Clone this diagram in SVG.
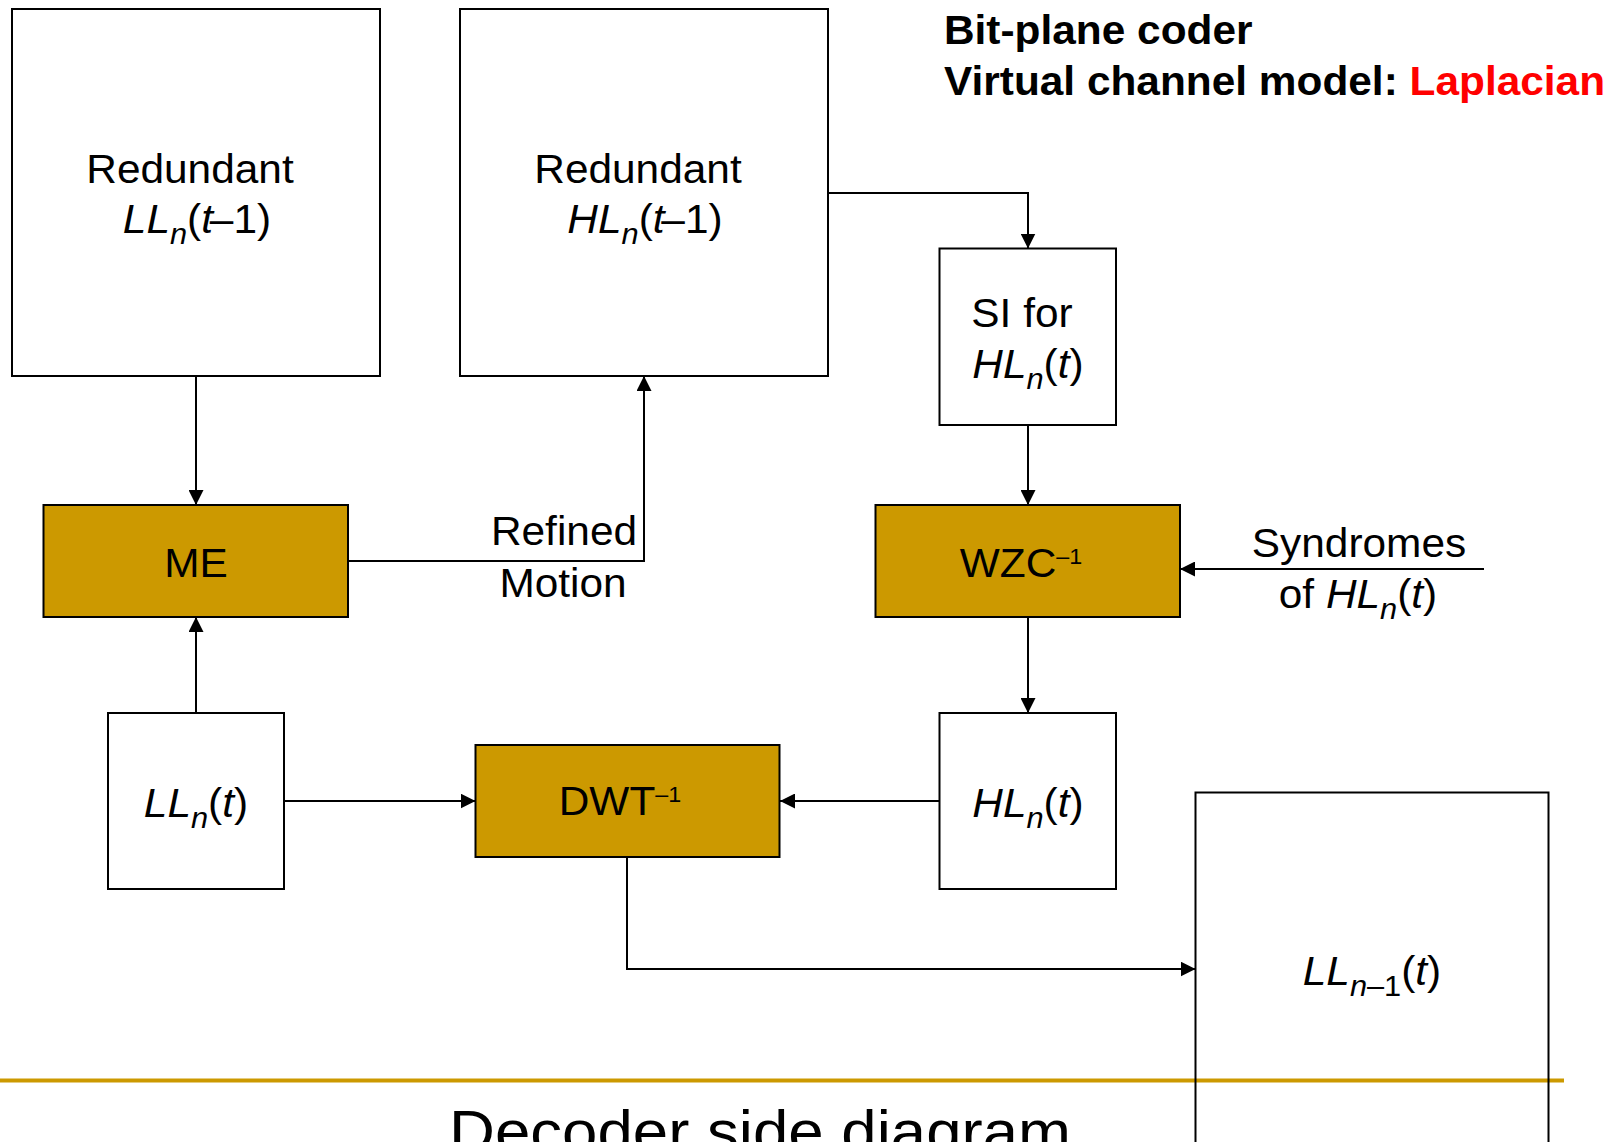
<svg xmlns="http://www.w3.org/2000/svg" width="1620" height="1142" viewBox="0 0 1620 1142">
  <style>
    .box { fill: #FFFFFF; stroke: #000000; stroke-width: 2; }
    .proc { fill: #CC9900; stroke: #000000; stroke-width: 2; }
    .open { fill: none; stroke: #000000; stroke-width: 2; }
    .wire { fill: none; stroke: #000000; stroke-width: 2; }
    text { font-family: "Liberation Sans", Arial, sans-serif; font-size: 40px; fill: #000000; }
    .c { text-anchor: middle; transform-box: fill-box; transform-origin: center; transform: scaleX(1.06); }
    .l { transform-box: fill-box; transform-origin: left center; transform: scaleX(1.06); }
    .i { font-style: italic; }
    .sub { font-size: 29px; }
    .sup { font-size: 22px; }
    .title { font-weight: bold; font-size: 40px; }
    .red { fill: #FF0000; }
    .caption { font-size: 60px; }
  </style>
  <defs>
    <marker id="ah" viewBox="0 0 15 15" refX="15" refY="7.5" markerWidth="15" markerHeight="15" markerUnits="userSpaceOnUse" orient="auto">
      <path d="M0,0 L15,7.5 L0,15 z" fill="#000000"/>
    </marker>
  </defs>

  <!-- header -->
  <g id="header">
    <text class="title l" x="944" y="44">Bit-plane coder</text>
    <text class="title l" x="944" y="95">Virtual channel model: <tspan class="red">Laplacian</tspan></text>
  </g>

  <!-- slide rule and caption -->
  <g id="footer">
    <rect x="0" y="1078.5" width="1564" height="4" fill="#CC9900"/>
    <text class="caption c" x="760" y="1152">Decoder side diagram</text>
  </g>

  <!-- connectors -->
  <g id="connectors">
    <path class="wire" d="M196,376 V505" marker-end="url(#ah)"/>
    <path class="wire" d="M196,713 V617" marker-end="url(#ah)"/>
    <path class="wire" d="M348,561 H644 V376" marker-end="url(#ah)"/>
    <path class="wire" d="M828,193 H1028 V248.5" marker-end="url(#ah)"/>
    <path class="wire" d="M1028,425 V505" marker-end="url(#ah)"/>
    <path class="wire" d="M1484,569 H1180" marker-end="url(#ah)"/>
    <path class="wire" d="M1028,617 V713" marker-end="url(#ah)"/>
    <path class="wire" d="M284,801 H475.5" marker-end="url(#ah)"/>
    <path class="wire" d="M939.5,801 H780" marker-end="url(#ah)"/>
    <path class="wire" d="M627,857 V969 H1195.5" marker-end="url(#ah)"/>
  </g>

  <!-- connector labels -->
  <g id="label-refined-motion">
    <text class="c" x="564" y="545">Refined</text>
    <text class="c" x="563" y="597">Motion</text>
  </g>
  <g id="label-syndromes">
    <text class="c" x="1359" y="557">Syndromes</text>
    <text class="c" x="1358" y="608">of <tspan class="i">HL</tspan><tspan class="i sub" baseline-shift="-11">n</tspan>(<tspan class="i">t</tspan>)</text>
  </g>

  <!-- nodes -->
  <g id="redundant-ll">
    <rect class="box" x="12" y="9" width="368" height="367"/>
    <text class="c" x="190" y="183">Redundant</text>
    <text class="c" x="197" y="233"><tspan class="i">LL</tspan><tspan class="i sub" baseline-shift="-11">n</tspan>(<tspan class="i">t</tspan><tspan dx="-3">–1)</tspan></text>
  </g>

  <g id="redundant-hl">
    <rect class="box" x="460" y="9" width="368" height="367"/>
    <text class="c" x="638" y="183">Redundant</text>
    <text class="c" x="645" y="233"><tspan class="i">HL</tspan><tspan class="i sub" baseline-shift="-11">n</tspan>(<tspan class="i">t</tspan><tspan dx="-3">–1)</tspan></text>
  </g>

  <g id="si-hl">
    <rect class="box" x="939.5" y="248.5" width="176.5" height="176.5"/>
    <text class="c" x="1022" y="327">SI for</text>
    <text class="c" x="1028" y="378"><tspan class="i">HL</tspan><tspan class="i sub" baseline-shift="-11">n</tspan>(<tspan class="i">t</tspan>)</text>
  </g>

  <g id="me">
    <rect class="proc" x="43.5" y="505" width="304.5" height="112"/>
    <text class="c" x="196" y="577">ME</text>
  </g>

  <g id="wzc-inv">
    <rect class="proc" x="875.5" y="505" width="304.5" height="112"/>
    <text class="c" x="1021" y="577">WZC<tspan class="sup" baseline-shift="13">–1</tspan></text>
  </g>

  <g id="ll-t">
    <rect class="box" x="108" y="713" width="176" height="176"/>
    <text class="c" x="196" y="817"><tspan class="i">LL</tspan><tspan class="i sub" baseline-shift="-11">n</tspan>(<tspan class="i">t</tspan>)</text>
  </g>

  <g id="dwt-inv">
    <rect class="proc" x="475.5" y="745" width="304" height="112"/>
    <text class="c" x="620" y="815">DWT<tspan class="sup" baseline-shift="13">–1</tspan></text>
  </g>

  <g id="hl-t">
    <rect class="box" x="939.5" y="713" width="176.5" height="176"/>
    <text class="c" x="1028" y="817"><tspan class="i">HL</tspan><tspan class="i sub" baseline-shift="-11">n</tspan>(<tspan class="i">t</tspan>)</text>
  </g>

  <g id="ll-next">
    <rect class="open" x="1195.5" y="792.5" width="353" height="400"/>
    <text class="c" x="1372" y="985"><tspan class="i">LL</tspan><tspan class="sub" baseline-shift="-11"><tspan class="i">n</tspan>–1</tspan>(<tspan class="i">t</tspan>)</text>
  </g>
</svg>
